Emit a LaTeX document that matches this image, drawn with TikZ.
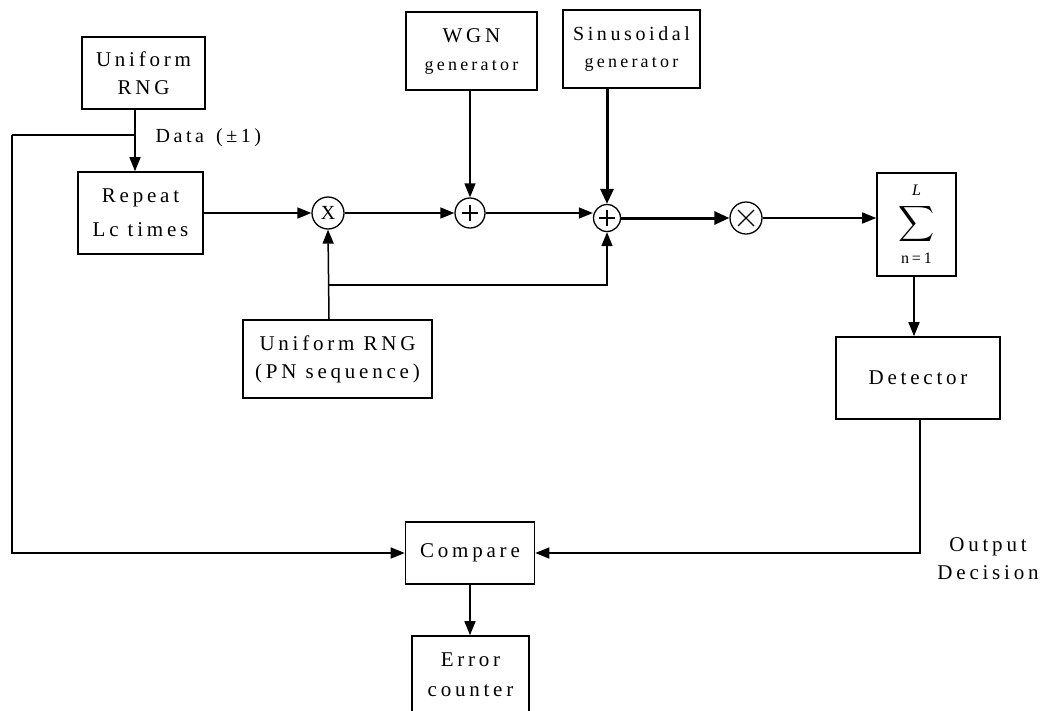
\documentclass[tikz,border=0pt]{standalone}
\usepackage{fontspec}
\setmainfont[LetterSpace=18]{Liberation Serif}
\usetikzlibrary{arrows.meta,calc}
\begin{document}
\begin{tikzpicture}[x=1pt,y=-1pt,
  blk/.style={draw,line width=1.6pt,inner sep=0pt,align=center,font=\fontsize{21}{28}\selectfont},
  arr/.style={line width=1.5pt,-{Triangle[length=14pt,width=11pt]}},
  tarr/.style={line width=3pt,-{Triangle[length=15pt,width=13pt]}},
  ln/.style={line width=1.5pt},
  junc/.style={circle,draw,line width=1.3pt,inner sep=0pt},
  plus/.style={junc,path picture={\draw[line width=1.3pt] ($(path picture bounding box.center)+(-8,0)$) -- ($(path picture bounding box.center)+(8,0)$) ($(path picture bounding box.center)+(0,-8)$) -- ($(path picture bounding box.center)+(0,8)$);}},
  cross/.style={junc,path picture={\draw[line width=1.3pt] ($(path picture bounding box.center)+(-8,-8)$) -- ($(path picture bounding box.center)+(8,8)$) ($(path picture bounding box.center)+(8,-8)$) -- ($(path picture bounding box.center)+(-8,8)$);}}
]
\useasboundingbox (0,0) rectangle (1043,710);
\fill[white] (0,0) rectangle (1043,710);

% blocks
\node[blk,minimum width=123,minimum height=72] (urng) at (143.5,73) {Uniform\\RNG};
\node[blk,minimum width=125,minimum height=82,font=\fontsize{21}{34}\selectfont] (rep) at (140.5,213) {Repeat\\Lc times};
\node[blk,minimum width=131,minimum height=78] (wgn) at (471.5,51) {WGN\\{\fontsize{18}{20}\selectfont generator}};
\node[blk,minimum width=137,minimum height=78,font=\fontsize{20}{27}\selectfont] (sin) at (631.5,49) {Sinusoidal\\{\fontsize{18}{20}\selectfont generator}};
\node[blk,minimum width=189,minimum height=78] (pn) at (337.5,359) {Uniform RNG\\(PN sequence)};
\node[blk,minimum width=79,minimum height=103] (sum) at (916.5,224.5)
  {$\mathop{\scalebox{2.5}{$\displaystyle\sum$}}\limits^{\vbox{\hbox{\fontsize{16}{16}\selectfont\itshape L}\kern6pt}}_{\vbox{\kern8pt\hbox{\fontsize{16}{16}\selectfont n=1}}}$};
\node[blk,minimum width=164,minimum height=82] (det) at (918,378) {Detector};
\node[blk,minimum width=129,minimum height=62] (cmp) at (470,553) {Compare};
\node[blk,minimum width=117,minimum height=78,font=\fontsize{21}{30}\selectfont] (err) at (470.5,675) {Error\\counter};

% junctions
\node[junc,minimum size=32pt,font=\fontsize{20}{20}\selectfont] (mx) at (328,213) {X};
\node[plus,minimum size=30pt] (p1) at (470,213) {};
\node[plus,minimum size=27pt] (p2) at (607,218) {};
\node[cross,minimum size=32pt] (ox) at (746,218) {};

% labels
\node[font=\fontsize{20}{20}\selectfont,anchor=west] (data) at (152,138) {Data\, (±1)};
\node[font=\fontsize{21}{28}\selectfont,align=center] (outd) at (988,559) {Output\\Decision};

% connectors
\coordinate (fb) at (135,135);
\coordinate (fbl) at (12,135);
\coordinate (pj) at (329,285);
\draw[arr] (urng.south -| fb) -- (rep.north -| fb);
\draw[ln] (fb) -- (fbl);
\draw[arr] (fbl) |- (cmp.west);
\draw[arr] (rep.east) -- (mx.west);
\draw[arr] (pn.north -| pj) -- (mx.south);
\draw[arr] (pj) -| (p2.south);
\draw[arr] (mx.east) -- (p1.west);
\draw[arr] (wgn.south -| p1) -- (p1.north);
\draw[arr] (p1.east) -- (p1.east -| p2.west);
\draw[tarr] (sin.south -| p2) -- (p2.north);
\draw[tarr] (p2.east) -- (ox.west);
\draw[arr] (ox.east) -- (ox.east -| sum.west);
\draw[arr] (sum.south -| 914,0) -- (det.north -| 914,0);
\draw[arr] (det.south -| 920,0) |- (cmp.east);
\draw[arr] (cmp.south) -- (cmp.south |- err.north);
\end{tikzpicture}
\end{document}
